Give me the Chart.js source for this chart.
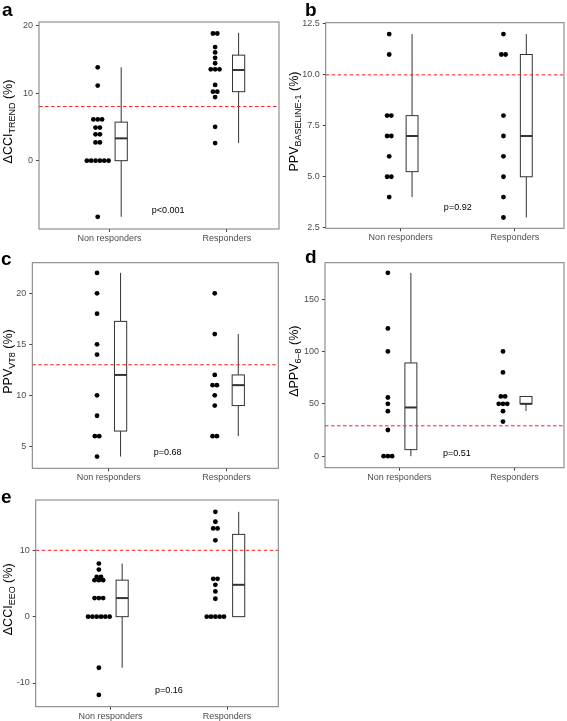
<!DOCTYPE html>
<html>
<head>
<meta charset="utf-8">
<script src="https://cdn.jsdelivr.net/npm/chart.js@4.4.1/dist/chart.umd.min.js"></script>
<style>
  body { margin: 0; background: #fff; width: 567px; height: 721px; position: relative; overflow: hidden; font-family: "Liberation Sans", Arial, sans-serif; }
  .panel { position: absolute; }
  .tag { position: absolute; font-weight: bold; font-size: 19px; line-height: 19px; color: #000; }
</style>
</head>
<body>
<div class="panel" style="left:0;top:0"><canvas id="cA" width="283" height="250"></canvas></div>
<div class="panel" style="left:285px;top:0"><canvas id="cB" width="282" height="250"></canvas></div>
<div class="panel" style="left:0;top:240px"><canvas id="cC" width="283" height="250"></canvas></div>
<div class="panel" style="left:285px;top:240px"><canvas id="cD" width="282" height="250"></canvas></div>
<div class="panel" style="left:0;top:480px"><canvas id="cE" width="283" height="241"></canvas></div>
<div class="tag" style="left:2px;top:0px">a</div>
<div class="tag" style="left:305px;top:0px">b</div>
<div class="tag" style="left:1px;top:249px">c</div>
<div class="tag" style="left:305px;top:247px">d</div>
<div class="tag" style="left:1px;top:487px">e</div>
<script>
const categories = ['Non responders', 'Responders'];

// a - ΔCCI trend
const aNon = [13.8, 11.1, 6.1, 6.1, 6.1, 4.9, 4.9, 3.9, 3.9, 2.7, 2.7, 0, 0, 0, 0, 0, 0, -8.3];
const aResp = [18.8, 18.8, 16.8, 16.0, 15.2, 14.4, 13.5, 13.5, 13.5, 11.2, 10.2, 10.2, 9.4, 5.0, 2.6];
const aBoxNon = [-8.3, 0, 3.3, 5.7, 13.8];
const aBoxResp = [2.6, 10.2, 13.4, 15.6, 18.9];
const aTicks = [0, 10, 20];

// b - PPV baseline-1
const bNon = [12, 11, 8, 8, 7, 7, 6, 5, 5, 4];
const bResp = [12, 11, 11, 8, 7, 6, 5, 4, 3];
const bBoxNon = [4, 5.25, 7, 8, 12];
const bBoxResp = [3, 5, 7, 11, 12];
const bTicks = [2.5, 5, 7.5, 10, 12.5];

// c - PPV VT8
const cNon = [22, 20, 18, 15, 14, 10, 8, 6, 6, 4];
const cResp = [20, 16, 12, 11, 11, 10, 9, 6, 6];
const cBoxNon = [4, 6.5, 12, 17.25, 22];
const cBoxResp = [6, 9, 11, 12, 16];
const cTicks = [5, 10, 15, 20];

// d - ΔPPV 6-8
const dNon = [175, 122, 100, 56, 50, 43, 25, 0, 0, 0];
const dResp = [100, 80, 57, 57, 50, 50, 50, 43, 33];
const dBoxNon = [0, 6.25, 46.5, 89, 175];
const dBoxResp = [43, 50, 50, 57, 57];
const dTicks = [0, 50, 100, 150];

// e - ΔCCI EEO
const eNon = [8, 7.1, 6, 6, 5.5, 5.5, 5.5, 2.8, 2.8, 2.8, 0, 0, 0, 0, 0, 0, -7.7, -11.8];
const eResp = [15.8, 14.3, 13.3, 13.3, 11.5, 5.7, 5.7, 4.8, 3.8, 2.7, 0, 0, 0, 0, 0];
const eBoxNon = [-7.7, 0, 2.8, 5.5, 8];
const eBoxResp = [0, 0, 4.8, 12.4, 15.8];
const eTicks = [-10, 0, 10];

const cutoffs = [8, 10, 13, 29, 10];
const pValues = ['p<0.001', 'p=0.92', 'p=0.68', 'p=0.51', 'p=0.16'];

const FONT = '"Liberation Sans", Arial, sans-serif';
const DOT_SHIFT = 0.1, DOT_STEP = 0.037, BOX_SHIFT = 0.1, BOX_HALF = 0.052;

const panels = [
  { id: 'cA', non: aNon, resp: aResp, boxes: [aBoxNon, aBoxResp], ticks: aTicks, cut: cutoffs[0], p: pValues[0], pY: -7.3,
    y: [-10.1, 20.5], x: [0.40, 2.444], area: [39, 22, 279, 229], title: ['ΔCCI', 'TREND'], tx: 7.5, dec: 0 },
  { id: 'cB', non: bNon, resp: bResp, boxes: [bBoxNon, bBoxResp], ticks: bTicks, cut: cutoffs[1], p: pValues[1], pY: 3.5,
    y: [2.47, 12.56], x: [0.344, 2.43], area: [40.7, 22.7, 279, 228.3], title: ['PPV', 'BASELINE-1'], tx: 8, dec: 1 },
  { id: 'cC', non: cNon, resp: cResp, boxes: [cBoxNon, cBoxResp], ticks: cTicks, cut: cutoffs[2], p: pValues[2], pY: 4.4,
    y: [2.85, 23], x: [0.35, 2.44], area: [32.3, 22.7, 278.3, 228.3], title: ['PPV', 'VT8'], tx: 7, dec: 0 },
  { id: 'cD', non: dNon, resp: dResp, boxes: [dBoxNon, dBoxResp], ticks: dTicks, cut: cutoffs[3], p: pValues[3], pY: 3,
    y: [-11, 184.7], x: [0.354, 2.43], area: [40, 22.7, 279, 227.7], title: ['ΔPPV', '6–8'], tx: 8.5, dec: 0 },
  { id: 'cE', non: eNon, resp: eResp, boxes: [eBoxNon, eBoxResp], ticks: eTicks, cut: cutoffs[4], p: pValues[4], pY: -11.2,
    y: [-13.57, 17.58], x: [0.358, 2.44], area: [35.7, 20, 278.3, 226.7], title: ['ΔCCI', 'EEO'], tx: 7, dec: 0 }
];

function stackDots(values, cat) {
  const counts = {};
  values.forEach(v => counts[v] = (counts[v] || 0) + 1);
  const seen = {};
  return values.map(v => {
    seen[v] = (seen[v] ?? -1) + 1;
    return { x: cat - DOT_SHIFT + (seen[v] - (counts[v] - 1) / 2) * DOT_STEP, y: v };
  });
}

function makeDeco(p) {
  const line = (ctx, x1, y1, x2, y2) => { ctx.beginPath(); ctx.moveTo(x1, y1); ctx.lineTo(x2, y2); ctx.stroke(); };
  return {
    id: 'panelDeco',
    beforeDatasetsDraw(chart) {
      const { ctx, chartArea: a, scales: { x, y } } = chart;
      ctx.save();
      p.boxes.forEach((b, i) => {
        const cx = x.getPixelForValue(i + 1 + BOX_SHIFT);
        const hw = x.getPixelForValue(i + 1 + BOX_SHIFT + BOX_HALF) - cx;
        const [lo, q1, med, q3, hi] = b.map(v => y.getPixelForValue(v));
        ctx.strokeStyle = '#333';
        ctx.lineWidth = 1;
        line(ctx, cx, hi, cx, q3);
        line(ctx, cx, q1, cx, lo);
        ctx.fillStyle = '#fff';
        ctx.fillRect(cx - hw, q3, hw * 2, q1 - q3);
        ctx.strokeRect(cx - hw, q3, hw * 2, q1 - q3);
        ctx.lineWidth = 2;
        line(ctx, cx - hw, med, cx + hw, med);
      });
      const yc = y.getPixelForValue(p.cut);
      ctx.strokeStyle = '#ff1a1a';
      ctx.lineWidth = 1;
      ctx.setLineDash([3.5, 2.5]);
      line(ctx, a.left, yc, a.right, yc);
      ctx.restore();
    },
    afterDraw(chart) {
      const { ctx, chartArea: a, scales: { x, y } } = chart;
      ctx.save();
      ctx.strokeStyle = '#7a7a7a';
      ctx.lineWidth = 1;
      ctx.strokeRect(a.left, a.top, a.right - a.left, a.bottom - a.top);
      ctx.fillStyle = '#000';
      ctx.font = '9px ' + FONT;
      ctx.textAlign = 'center';
      ctx.textBaseline = 'middle';
      ctx.fillText(p.p, x.getPixelForValue(1.5), y.getPixelForValue(p.pY));
      // y title with subscript
      const main = '12.5px ' + FONT, sub = '9px ' + FONT;
      ctx.font = main; const w1 = ctx.measureText(p.title[0]).width, w3 = ctx.measureText(' (%)').width;
      ctx.font = sub; const w2 = ctx.measureText(p.title[1]).width;
      const start = -(w1 + w2 + w3) / 2;
      ctx.translate(p.tx, (a.top + a.bottom) / 2 - 4);
      ctx.rotate(-Math.PI / 2);
      ctx.textAlign = 'left';
      ctx.textBaseline = 'alphabetic';
      ctx.font = main; ctx.fillText(p.title[0], start, 4.5);
      ctx.font = sub; ctx.fillText(p.title[1], start + w1, 7.5);
      ctx.font = main; ctx.fillText(' (%)', start + w1 + w2, 4.5);
      ctx.restore();
    }
  };
}

panels.forEach(p => {
  const canvas = document.getElementById(p.id);
  const W = canvas.width, H = canvas.height;
  const dotSet = data => ({ data, backgroundColor: '#000', borderWidth: 0, pointRadius: 2.4, pointHoverRadius: 2.4 });
  new Chart(canvas, {
    type: 'scatter',
    data: { datasets: [dotSet(stackDots(p.non, 1)), dotSet(stackDots(p.resp, 2))] },
    options: {
      responsive: false, animation: false, events: [],
      layout: { padding: { top: p.area[1], right: W - p.area[2], left: 0, bottom: 0 } },
      plugins: { legend: { display: false }, tooltip: { enabled: false } },
      scales: {
        x: {
          type: 'linear', min: p.x[0], max: p.x[1],
          afterBuildTicks: s => { s.ticks = [{ value: 1 }, { value: 2 }]; },
          afterFit: s => { s.height = H - p.area[3]; },
          ticks: { callback: v => categories[v - 1], color: '#4d4d4d', font: { size: 9, family: FONT }, padding: 1, autoSkip: false, maxRotation: 0 },
          grid: { drawOnChartArea: false, tickLength: 3, color: '#444' },
          border: { display: false }
        },
        y: {
          min: p.y[0], max: p.y[1],
          afterBuildTicks: s => { s.ticks = p.ticks.map(v => ({ value: v })); },
          afterFit: s => { s.width = p.area[0]; },
          ticks: { callback: v => v.toFixed(p.dec), color: '#4d4d4d', font: { size: 9, family: FONT }, padding: 3 },
          grid: { drawOnChartArea: false, tickLength: 3, color: '#444' },
          border: { display: false }
        }
      }
    },
    plugins: [makeDeco(p)]
  });
});
</script>
</body>
</html>
